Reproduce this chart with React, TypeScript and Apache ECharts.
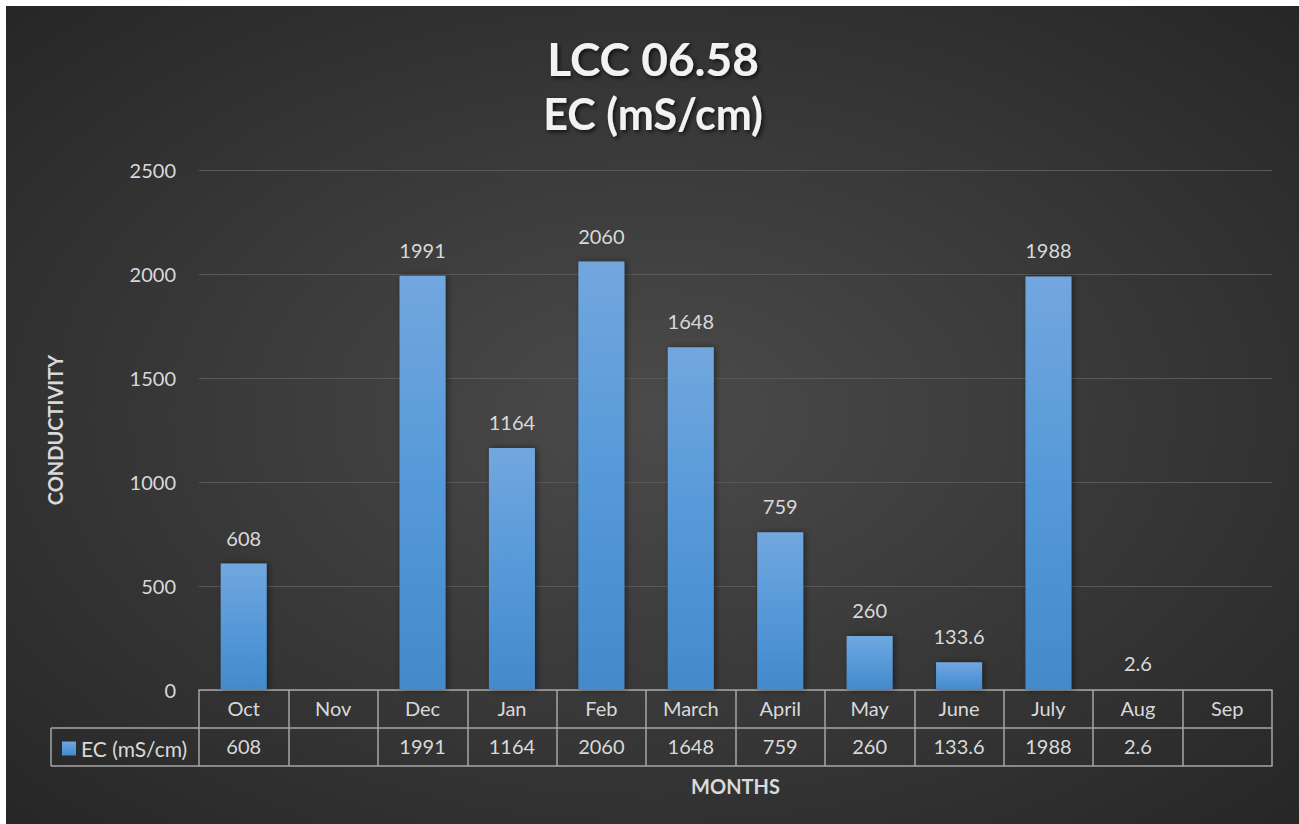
import React, { useEffect, useRef } from "react";
import * as echarts from "echarts";

const months = ["Oct", "Nov", "Dec", "Jan", "Feb", "March", "April", "May", "June", "July", "Aug", "Sep"];
const ecValues: (number | null)[] = [608, null, 1991, 1164, 2060, 1648, 759, 260, 133.6, 1988, 2.6, null];
const seriesName = "EC (mS/cm)";
const titleLine1 = "LCC 06.58";
const titleLine2 = "EC (mS/cm)";
const yTicks = { min: 0, max: 2500, interval: 500 };

const FONT = "Lato, 'Open Sans', sans-serif";
const TXT = "#d9d9d9";
const LINE = "#a6a6a6";

export default function App() {
  const ref = useRef<HTMLDivElement>(null);
  useEffect(() => {
    if (!ref.current) return;
    const chart = echarts.init(ref.current, null, { renderer: "svg" });
    const tableLabels = ecValues.map((v) => (v === null ? "" : String(v)));
    chart.setOption({
      animation: false,
      graphic: [
        {
          type: "rect",
          z: -100,
          silent: true,
          shape: { x: 6, y: 6, width: 1293, height: 818 },
          style: {
            fill: {
              type: "radial",
              x: 0.5,
              y: 0.5,
              r: 0.75,
              colorStops: [
                { offset: 0, color: "#4b4b4b" },
                { offset: 1, color: "#242424" },
              ],
            },
          },
        },
        {
          type: "text",
          x: 653,
          y: 58,
          style: {
            text: titleLine1,
            fill: "#f2f2f2",
            font: `bold 46px ${FONT}`,
            align: "center",
            verticalAlign: "middle",
            textShadowColor: "rgba(0,0,0,0.7)",
            textShadowBlur: 4,
            textShadowOffsetX: 2,
            textShadowOffsetY: 2,
          },
        },
        {
          type: "text",
          x: 653,
          y: 113,
          style: {
            text: titleLine2,
            fill: "#f2f2f2",
            font: `bold 43px ${FONT}`,
            align: "center",
            verticalAlign: "middle",
            textShadowColor: "rgba(0,0,0,0.7)",
            textShadowBlur: 4,
            textShadowOffsetX: 2,
            textShadowOffsetY: 2,
          },
        },
        { type: "line", shape: { x1: 51, y1: 728, x2: 199, y2: 728 }, style: { stroke: LINE, lineWidth: 1.5 } },
        { type: "line", shape: { x1: 51, y1: 766, x2: 199, y2: 766 }, style: { stroke: LINE, lineWidth: 1.5 } },
        { type: "line", shape: { x1: 51, y1: 728, x2: 51, y2: 766 }, style: { stroke: LINE, lineWidth: 1.5 } },
      ],
      legend: {
        left: 57,
        top: 733,
        icon: "rect",
        itemWidth: 14,
        itemHeight: 14,
        itemGap: 5,
        textStyle: { color: TXT, fontSize: 21, fontFamily: FONT },
        data: [seriesName],
      },
      grid: { left: 199, right: 27, top: 170, bottom: 134, containLabel: false },
      xAxis: [
        {
          type: "category",
          data: months,
          position: "bottom",
          axisLine: { show: true, lineStyle: { color: LINE, width: 1.5 } },
          axisTick: { show: true, length: 38, interval: 0, lineStyle: { color: LINE, width: 1.5 } },
          axisLabel: { color: TXT, fontSize: 20, fontFamily: FONT, margin: 8, interval: 0 },
        },
        {
          type: "category",
          data: tableLabels,
          position: "bottom",
          offset: 38,
          axisLine: { show: true, lineStyle: { color: LINE, width: 1.5 } },
          axisTick: { show: true, length: 38, interval: 0, lineStyle: { color: LINE, width: 1.5 } },
          axisLabel: { color: TXT, fontSize: 20, fontFamily: FONT, margin: 8, interval: 0 },
        },
        {
          type: "category",
          data: months,
          position: "bottom",
          offset: 76,
          name: "MONTHS",
          nameLocation: "middle",
          nameGap: 10,
          nameTextStyle: { color: TXT, fontSize: 20, fontWeight: "bold", fontFamily: FONT, verticalAlign: "top" },
          axisLine: { show: true, lineStyle: { color: LINE, width: 1.5 } },
          axisTick: { show: false },
          axisLabel: { show: false },
        },
      ],
      yAxis: {
        type: "value",
        min: yTicks.min,
        max: yTicks.max,
        interval: yTicks.interval,
        name: "CONDUCTIVITY",
        nameLocation: "middle",
        nameGap: 134,
        nameTextStyle: { color: TXT, fontSize: 20, fontWeight: "bold", fontFamily: FONT },
        axisLine: { show: false },
        axisTick: { show: false },
        axisLabel: { color: TXT, fontSize: 20, fontFamily: FONT, margin: 23, formatter: (v: number) => String(v) },
        splitLine: { show: true, lineStyle: { color: "#595959", width: 1 } },
      },
      series: [
        {
          type: "bar",
          name: seriesName,
          data: ecValues,
          barWidth: 46,
          itemStyle: {
            color: new echarts.graphic.LinearGradient(0, 0, 0, 1, [
              { offset: 0, color: "#72a7de" },
              { offset: 0.5, color: "#5699d9" },
              { offset: 1, color: "#438acb" },
            ]),
            shadowColor: "rgba(0,0,0,0.45)",
            shadowBlur: 6,
            shadowOffsetX: 2,
            shadowOffsetY: 0,
          },
          label: {
            show: true,
            position: "top",
            distance: 16,
            color: TXT,
            fontSize: 20,
            fontFamily: FONT,
          },
        },
      ],
    });
    return () => chart.dispose();
  }, []);
  return (
    <div
      ref={ref}
      style={{ position: "absolute", left: 0, top: 0, width: 1299, height: 824, background: "#ffffff" }}
    />
  );
}
